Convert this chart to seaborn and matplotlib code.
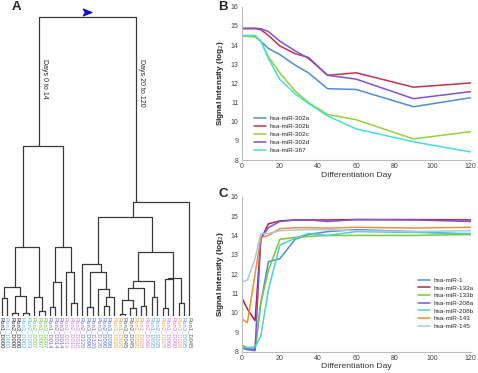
import numpy as np
import pandas as pd
import matplotlib
matplotlib.use("Agg")
import matplotlib.pyplot as plt
from matplotlib.path import Path
import seaborn as sns

# ---- panel A: hierarchical clustering of samples ----
leaf_labels = [
    "Run1_D000", "Run1_D003", "Run2_D000", "Run3_D000", "Run3_D003", "Run2_D003",
    "Run2_D007", "Run1_D007", "Run3_D007", "Run1_D014", "Run2_D014", "Run3_D014",
    "Run1_D010", "Run2_D010", "Run3_D010", "Run2_D120", "Run3_D090", "Run1_D120",
    "Run3_D120", "Run2_D090", "Run3_D090", "Run3_D020", "Run1_D020", "Run3_D045",
    "Run2_D045", "Run2_D020", "Run1_D028", "Run2_D060", "Run1_D035", "Run2_D035",
    "Run2_D028", "Run1_D060", "Run3_D060", "Run3_D028", "Run3_D035", "Run1_D045",
]
day_colors = {
    "D000": "#222222", "D003": "#5fb0f0", "D007": "#5cc83a", "D010": "#c77fe0",
    "D014": "#7f5fd8", "D020": "#f0a040", "D028": "#e0a070", "D035": "#5f9fe8",
    "D045": "#5a5a5a", "D060": "#e070e0", "D090": "#4f6fe0", "D120": "#6f6fd8",
}
# (left, right, merge height); ints are leaf positions
tree_left = (
    (((0, 1, 17.7), ((2, 3, 3.3), (4, 5, 2.7), 20.0), 28.7),
     (6, (7, 8, 5.0), 18.7), 69.3),
    (((9, 10, 9.3), 11, 34.3), (12, (13, 14, 13.3), 44.3), 68.7),
    170.0,
)
tree_right = (
    ((15, ((16, 17, 9.3), (18, ((19, 20, 10.0), 21, 18.7), 27.0), 43.7), 51.7),
     (((((22, 23, 1.7), (24, 25, 8.3), 16.0), (26, 27, 10.0), 27.7), (28, 29, 18.7), 35.0),
      (((30, 31, 7.7), 32, 37.0), (33, 34, 12.7), 38.0), 63.7),
     99.0),
    35, 114.0,
)
tree = (tree_left, tree_right, 299.0)
branch_text = ["Days 0 to 14", "Days 20 to 120"]

# ---- panel B ----
days = [0, 3, 7, 10, 14, 20, 28, 35, 45, 60, 90, 120]
b_names = ["hsa-miR-302a", "hsa-miR-302b", "hsa-miR-302c", "hsa-miR-302d", "hsa-miR-367"]
b_302a = [14.48, 14.46, 14.45, 14.2, 13.82, 13.5, 12.95, 12.55, 11.72, 11.68, 10.78, 11.25]
b_302b = [14.85, 14.85, 14.85, 14.8, 14.5, 13.95, 13.55, 13.35, 12.42, 12.55, 11.8, 12.02]
b_302c = [14.5, 14.45, 14.42, 14.2, 13.4, 12.55, 11.6, 11.0, 10.38, 10.1, 9.1, 9.48]
b_302d = [14.87, 14.88, 14.88, 14.85, 14.7, 14.2, 13.7, 13.3, 12.42, 12.22, 11.2, 11.57]
b_367 = [14.48, 14.5, 14.5, 14.2, 13.3, 12.2, 11.45, 10.95, 10.3, 9.62, 8.95, 8.42]
b_colors = ["#4a8fdc", "#c8304c", "#98d03a", "#7f52d8", "#44e0d0"]

# ---- panel C ----
c_names = ["hsa-miR-1", "hsa-miR-133a", "hsa-miR-133b", "hsa-miR-208a",
           "hsa-miR-208b", "hsa-miR-143", "hsa-miR-145"]
c_1 = [8.2, 8.1, 8.05, 10.5, 12.65, 12.8, 13.8, 14.05, 14.2, 14.3, 14.2, 14.05]
c_133a = [10.8, 10.2, 9.6, 13.8, 14.6, 14.75, 14.8, 14.8, 14.8, 14.82, 14.82, 14.8]
c_133b = [8.35, 8.2, 8.2, 10.5, 12.2, 13.8, 13.9, 13.95, 14.0, 14.0, 14.0, 14.05]
c_208a = [8.2, 8.15, 8.1, 13.85, 14.4, 14.72, 14.8, 14.8, 14.72, 14.82, 14.8, 14.72]
c_208b = [8.25, 8.2, 8.25, 8.8, 11.2, 13.5, 13.85, 14.1, 14.0, 14.2, 14.15, 14.1]
c_143 = [9.7, 9.5, 12.0, 13.9, 14.0, 14.35, 14.4, 14.4, 14.38, 14.42, 14.38, 14.42]
c_145 = [11.6, 11.7, 12.8, 14.1, 14.1, 14.25, 14.28, 14.3, 14.3, 14.25, 14.2, 14.25]
c_colors = ["#4a8fdc", "#b8203f", "#7cc832", "#7f52d8", "#48d4cc", "#f0902a", "#a6c8f0"]

sns.set_theme(style="white")
plt.rcParams["font.family"] = ["Liberation Sans", "DejaVu Sans"]

W, H = 478, 373
fig = plt.figure(figsize=(W / 100, H / 100), dpi=100)


def frac(x0, y0, x1, y1):
    # pixel box (top-left origin) -> figure fraction
    return [x0 / W, 1 - y1 / H, (x1 - x0) / W, (y1 - y0) / H]


# ----- A -----
axA = fig.add_axes(frac(0, 12, 195, 316))
axA.set_xlim(-0.317, 36.06)
axA.set_ylim(0, 304)


def draw(node):
    if isinstance(node, int):
        return float(node), 0.0, [node]
    left, right, h = node
    x1, h1, l1 = draw(left)
    x2, h2, l2 = draw(right)
    axA.plot([x1, x1, x2, x2], [h1, h, h, h2], color="#3a3a3a", lw=0.9,
             solid_capstyle="butt")
    leaves = l1 + l2
    return float(np.mean(leaves)), h, leaves


xl, hl, _ = draw(tree[0])
xr, hr, _ = draw(tree[1])
axA.plot([xl, xl, xr, xr], [hl, tree[2], tree[2], hr], color="#3a3a3a", lw=0.9)

arrow = Path([(-1, 0.8), (1, 0), (-1, -0.8), (-0.45, 0), (-1, 0.8)],
             [Path.MOVETO, Path.LINETO, Path.LINETO, Path.LINETO, Path.CLOSEPOLY])
axA.plot([(xl + xr) / 2], [tree[2] + 5], marker=arrow, color="#1010d0",
         markersize=6, clip_on=False)

for xn, txt in zip([xl, xr], branch_text):
    axA.text(xn + 1.05, 257, txt, rotation=-90, ha="center", va="top",
             fontsize=5, color="#222222")

axA.set_xticks(range(len(leaf_labels)))
axA.set_xticklabels(leaf_labels, rotation=-90, fontsize=4.2)
for lab in axA.get_xticklabels():
    lab.set_color(day_colors[lab.get_text()[-4:]])
axA.tick_params(axis="x", length=0, pad=1)
axA.set_yticks([])
for s in axA.spines.values():
    s.set_visible(False)
axA.patch.set_alpha(0)


def style_line_ax(ax):
    ax.set_xlim(0, 120)
    ax.set_ylim(8, 16)
    ax.set_xticks(range(0, 121, 20))
    ax.set_yticks(range(8, 17))
    ax.tick_params(length=0, labelsize=5, colors="#444444", pad=2.5)
    for k in ["top", "right"]:
        ax.spines[k].set_visible(False)
    for k in ["left", "bottom"]:
        ax.spines[k].set_color("#bbbbbb")
        ax.spines[k].set_linewidth(0.8)
    ax.set_xlabel("Differentiation Day", fontsize=6.1, color="#333333", labelpad=0.8)
    ax.set_ylabel("Signal Intensity (log$_2$)", fontsize=5.9, fontweight="bold",
                  color="#222222")
    ax.yaxis.set_label_coords(-0.068, 0.5)


# ----- B -----
axB = fig.add_axes(frac(241.7, 6.7, 470.7, 160))
df_b = pd.DataFrame({
    "day": days * len(b_names),
    "value": b_302a + b_302b + b_302c + b_302d + b_367,
    "miRNA": [n for n in b_names for _ in days],
})
sns.lineplot(data=df_b, x="day", y="value", hue="miRNA", hue_order=b_names,
             palette=b_colors, estimator=None, linewidth=1.1, ax=axB)
style_line_ax(axB)
axB.legend(loc="upper left", bbox_to_anchor=(0.04, 0.31), frameon=False,
           fontsize=4.6, handlelength=1.9, handletextpad=0.5, labelspacing=0.4,
           borderpad=0)

# ----- C -----
axC = fig.add_axes(frac(241.7, 196.7, 470.7, 351.7))
df_c = pd.DataFrame({
    "day": days * len(c_names),
    "value": c_1 + c_133a + c_133b + c_208a + c_208b + c_143 + c_145,
    "miRNA": [n for n in c_names for _ in days],
})
sns.lineplot(data=df_c, x="day", y="value", hue="miRNA", hue_order=c_names,
             palette=c_colors, estimator=None, linewidth=1.1, ax=axC)
style_line_ax(axC)
axC.legend(loc="upper left", bbox_to_anchor=(0.755, 0.5), frameon=False,
           fontsize=4.6, handlelength=1.9, handletextpad=0.5, labelspacing=0.35,
           borderpad=0)

for lbl, (px, py) in zip("ABC", [(16.7, 7), (222.7, 7), (223, 194)]):
    fig.text(px / W, 1 - py / H, lbl, fontsize=9.5, fontweight="bold",
             ha="center", va="center")

fig.savefig("out.png", dpi=100)
